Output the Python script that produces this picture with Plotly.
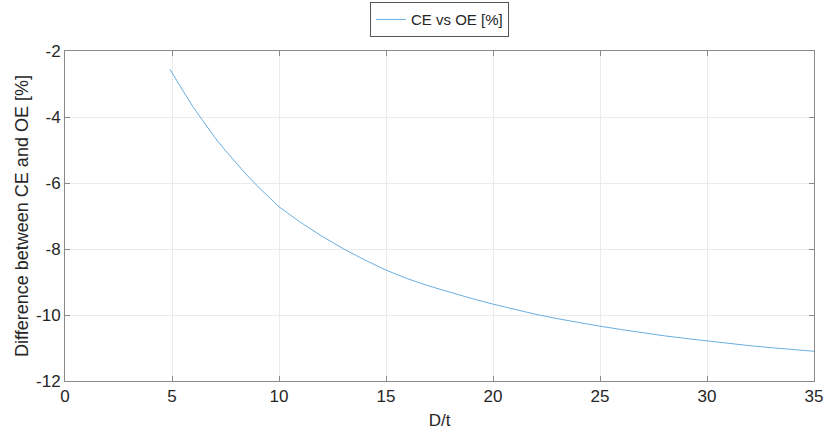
import plotly.graph_objects as go

# D/t ratio and the CE vs OE difference in percent
d_over_t = [4.9, 5, 5.5, 6, 6.5, 7, 7.5, 8, 8.5, 9, 9.5, 10,
            11, 12, 13, 14, 15, 16, 17, 18, 19, 20, 21, 22, 23, 24,
            25, 26, 27, 28, 29, 30, 31, 32, 33, 34, 35]
ce_vs_oe = [-2.55, -2.66, -3.19, -3.71, -4.17, -4.62, -5.02, -5.40, -5.76, -6.10, -6.42, -6.72,
            -7.19, -7.61, -7.99, -8.33, -8.64, -8.90, -9.12, -9.32, -9.50, -9.67, -9.83, -9.98, -10.11, -10.23,
            -10.34, -10.44, -10.54, -10.63, -10.71, -10.79, -10.86, -10.93, -10.99, -11.05, -11.10]

x_ticks = [0, 5, 10, 15, 20, 25, 30, 35]
y_ticks = [-12, -10, -8, -6, -4, -2]
y_tick_text = ["-12", "-10", "-8", "-6", "-4", "-2"]

FONT = "Liberation Sans, Arial, sans-serif"
TXT = "#262626"
AX = "#8a8a8a"

fig = go.Figure()
fig.add_trace(go.Scatter(
    x=d_over_t, y=ce_vs_oe, mode="lines", name="CE vs OE [%]",
    line=dict(color="#6aaee0", width=1),
))

axis_common = dict(
    showline=True, linecolor=AX, linewidth=1, mirror="ticks",
    ticks="inside", ticklen=5, tickcolor=AX, tickwidth=1,
    showgrid=True, gridcolor="#ebebeb", gridwidth=1, zeroline=False,
    tickfont=dict(family=FONT, size=17, color=TXT),
)

fig.update_xaxes(range=[0, 35], tickvals=x_ticks,
                 title=dict(text="D/t", font=dict(family=FONT, size=17, color=TXT), standoff=8),
                 **axis_common)
fig.update_yaxes(range=[-12, -2], tickvals=y_ticks, ticktext=y_tick_text,
                 title=dict(text="Difference between CE and OE [%]",
                            font=dict(family=FONT, size=18, color=TXT), standoff=2),
                 **axis_common)

fig.update_layout(
    width=826, height=434,
    margin=dict(l=65, r=12, t=51, b=53, autoexpand=False),
    paper_bgcolor="white", plot_bgcolor="white",
    showlegend=True,
    legend=dict(x=0.5, xanchor="center", y=1.148, yanchor="top",
                bordercolor="#555555", borderwidth=1, bgcolor="white",
                font=dict(family=FONT, size=15, color=TXT),
                itemwidth=30, tracegroupgap=0),
)

fig.write_html("out.html")
